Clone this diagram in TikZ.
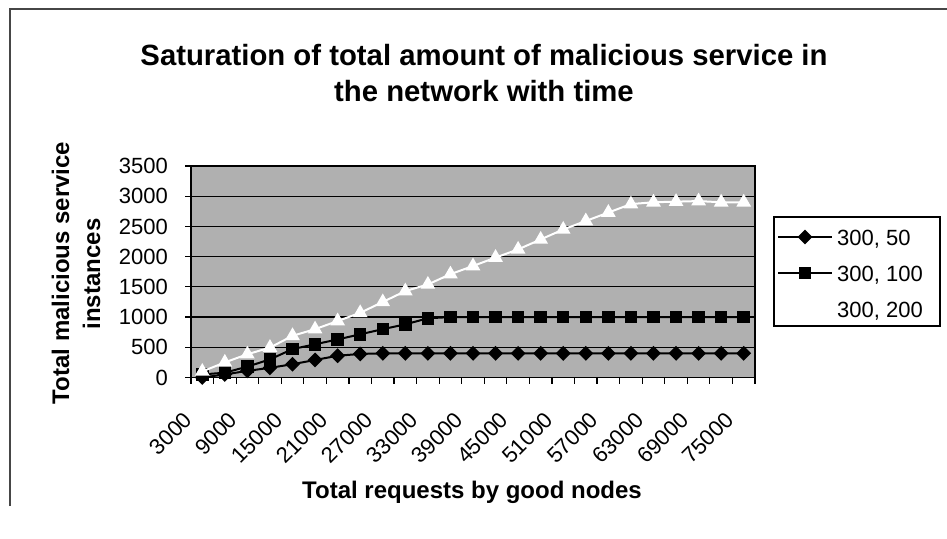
\documentclass[tikz,border=0pt]{standalone}
\usepackage{fontspec}
\setmainfont{Liberation Sans}
\usetikzlibrary{shapes.geometric}
\definecolor{plotbg}{RGB}{176,176,176}
\definecolor{framegray}{RGB}{70,70,70}
\tikzset{
  titletext/.style={font=\bfseries\fontsize{29.3}{35}\selectfont, inner sep=0pt, anchor=base},
  axtitle/.style={font=\bfseries\fontsize{24}{29}\selectfont, inner sep=0pt, anchor=base},
  ticklab/.style={font=\fontsize{22}{26}\selectfont, inner sep=0pt},
  gridline/.style={black, line width=1.2pt},
  sline/.style={line width=2pt, line join=round},
  dmark/.style={diamond, fill=black, inner sep=0pt, minimum width=15pt, minimum height=15pt},
  smark/.style={rectangle, fill=black, inner sep=0pt, minimum size=12.5pt},
  tmark/.style={regular polygon, regular polygon sides=3, fill=white, inner sep=0pt, minimum size=17pt},
}
\begin{document}
\begin{tikzpicture}[x=1pt,y=-1pt]
\useasboundingbox (0,0) rectangle (947,538);
\fill[white] (0,0) rectangle (947,538);
% outer frame (partially visible)
\coordinate (fTL) at (10,9);
\coordinate (fTR) at (947,9);
\coordinate (fBL) at (10,506);
\draw[framegray, line width=1.2pt] (fBL) -- (fTL) -- (fTR);
% title
\node[titletext] (title1) at (484,65) {Saturation of total amount of malicious service in};
\node[titletext] (title2) at (484,101) {the network with time};
% plot area
\coordinate (pTL) at (191,166);
\coordinate (pBR) at (755,377.5);
\fill[plotbg] (pTL) rectangle (pBR);
\foreach \k in {1,...,7} {
  \pgfmathsetmacro\gy{377.5-\k*500*0.060429}
  \draw[gridline] (191,\gy) -- (755,\gy);
}
\draw[black, line width=1.2pt] (pTL) rectangle (pBR);
% y ticks and labels
\foreach \k/\lab in {0/0,1/500,2/1000,3/1500,4/2000,5/2500,6/3000,7/3500} {
  \pgfmathsetmacro\gy{377.5-\k*30.2145}
  \draw[black, line width=1.2pt] (185,\gy) -- (191,\gy);
  \node[ticklab, anchor=east] (yl\k) at (168,\gy) {\lab};
}
% x ticks
\foreach \k in {0,...,25} {
  \draw[black, line width=1.2pt] ({191+\k*22.56},377.5) -- ({191+\k*22.56},384);
}
% x labels
\foreach \k/\lab in {0/3000,2/9000,4/15000,6/21000,8/27000,10/33000,12/39000,14/45000,16/51000,18/57000,20/63000,22/69000,24/75000} {
  \node[ticklab, rotate=45, anchor=east] (xl\k) at ({191+(\k+0.5)*22.56-14},416) {\lab};
}
% axis titles
\node[axtitle, rotate=90] (ytitle1) at (69,273) {Total malicious service};
\node[axtitle, rotate=90] (ytitle2) at (100,274) {instances};
\node[axtitle] (xtitle) at (472,498) {Total requests by good nodes};
% data coordinates
\foreach \v [count=\i from 0] in {0,50,110,160,220,290,360,390,400,400,400,400,400,400,400,400,400,400,400,400,400,400,400,400,400} {
  \coordinate (d\i) at ({191+(\i+0.5)*22.56},{377.5-\v*0.060429});
}
\foreach \v [count=\i from 0] in {50,80,180,300,470,550,630,715,800,880,980,1000,1000,1000,1000,1000,1000,1000,1000,1000,1000,1000,1000,1000,1000} {
  \coordinate (s\i) at ({191+(\i+0.5)*22.56},{377.5-\v*0.060429});
}
\foreach \v [count=\i from 0] in {100,250,385,495,690,800,935,1070,1250,1430,1540,1710,1845,1985,2120,2285,2450,2590,2730,2870,2900,2910,2920,2900,2900} {
  \coordinate (t\i) at ({191+(\i+0.5)*22.56},{377.5-\v*0.060429});
}
% series 300, 50
\draw[sline, black] (d0) \foreach \i in {1,...,24} { -- (d\i) };
\foreach \i in {0,...,24} { \node[dmark] (dm\i) at (d\i) {}; }
% series 300, 100
\draw[sline, black] (s0) \foreach \i in {1,...,24} { -- (s\i) };
\foreach \i in {0,...,24} { \node[smark] (sm\i) at (s\i) {}; }
% series 300, 200
\draw[sline, white] (t0) \foreach \i in {1,...,24} { -- (t\i) };
\foreach \i in {0,...,24} { \node[tmark] (tm\i) at (t\i) {}; }
% legend
\node[draw=black, line width=1.1pt, fill=white, minimum width=166pt, minimum height=109pt, inner sep=0pt] (legend) at (857,271.5) {};
\coordinate (la1) at (778,237);
\coordinate (lb1) at (832,237);
\coordinate (la2) at (778,273);
\coordinate (lb2) at (832,273);
\coordinate (la3) at (778,309);
\coordinate (lb3) at (832,309);
\draw[sline, black] (la1) -- (lb1);
\node[dmark] (lm1) at (805,237) {};
\draw[sline, black] (la2) -- (lb2);
\node[smark] (lm2) at (805,273) {};
\draw[sline, white] (la3) -- (lb3);
\node[tmark] (lm3) at (805,309) {};
\node[ticklab, anchor=base west] (lt1) at (837,245) {300, 50};
\node[ticklab, anchor=base west] (lt2) at (837,281) {300, 100};
\node[ticklab, anchor=base west] (lt3) at (837,317) {300, 200};
\end{tikzpicture}
\end{document}
